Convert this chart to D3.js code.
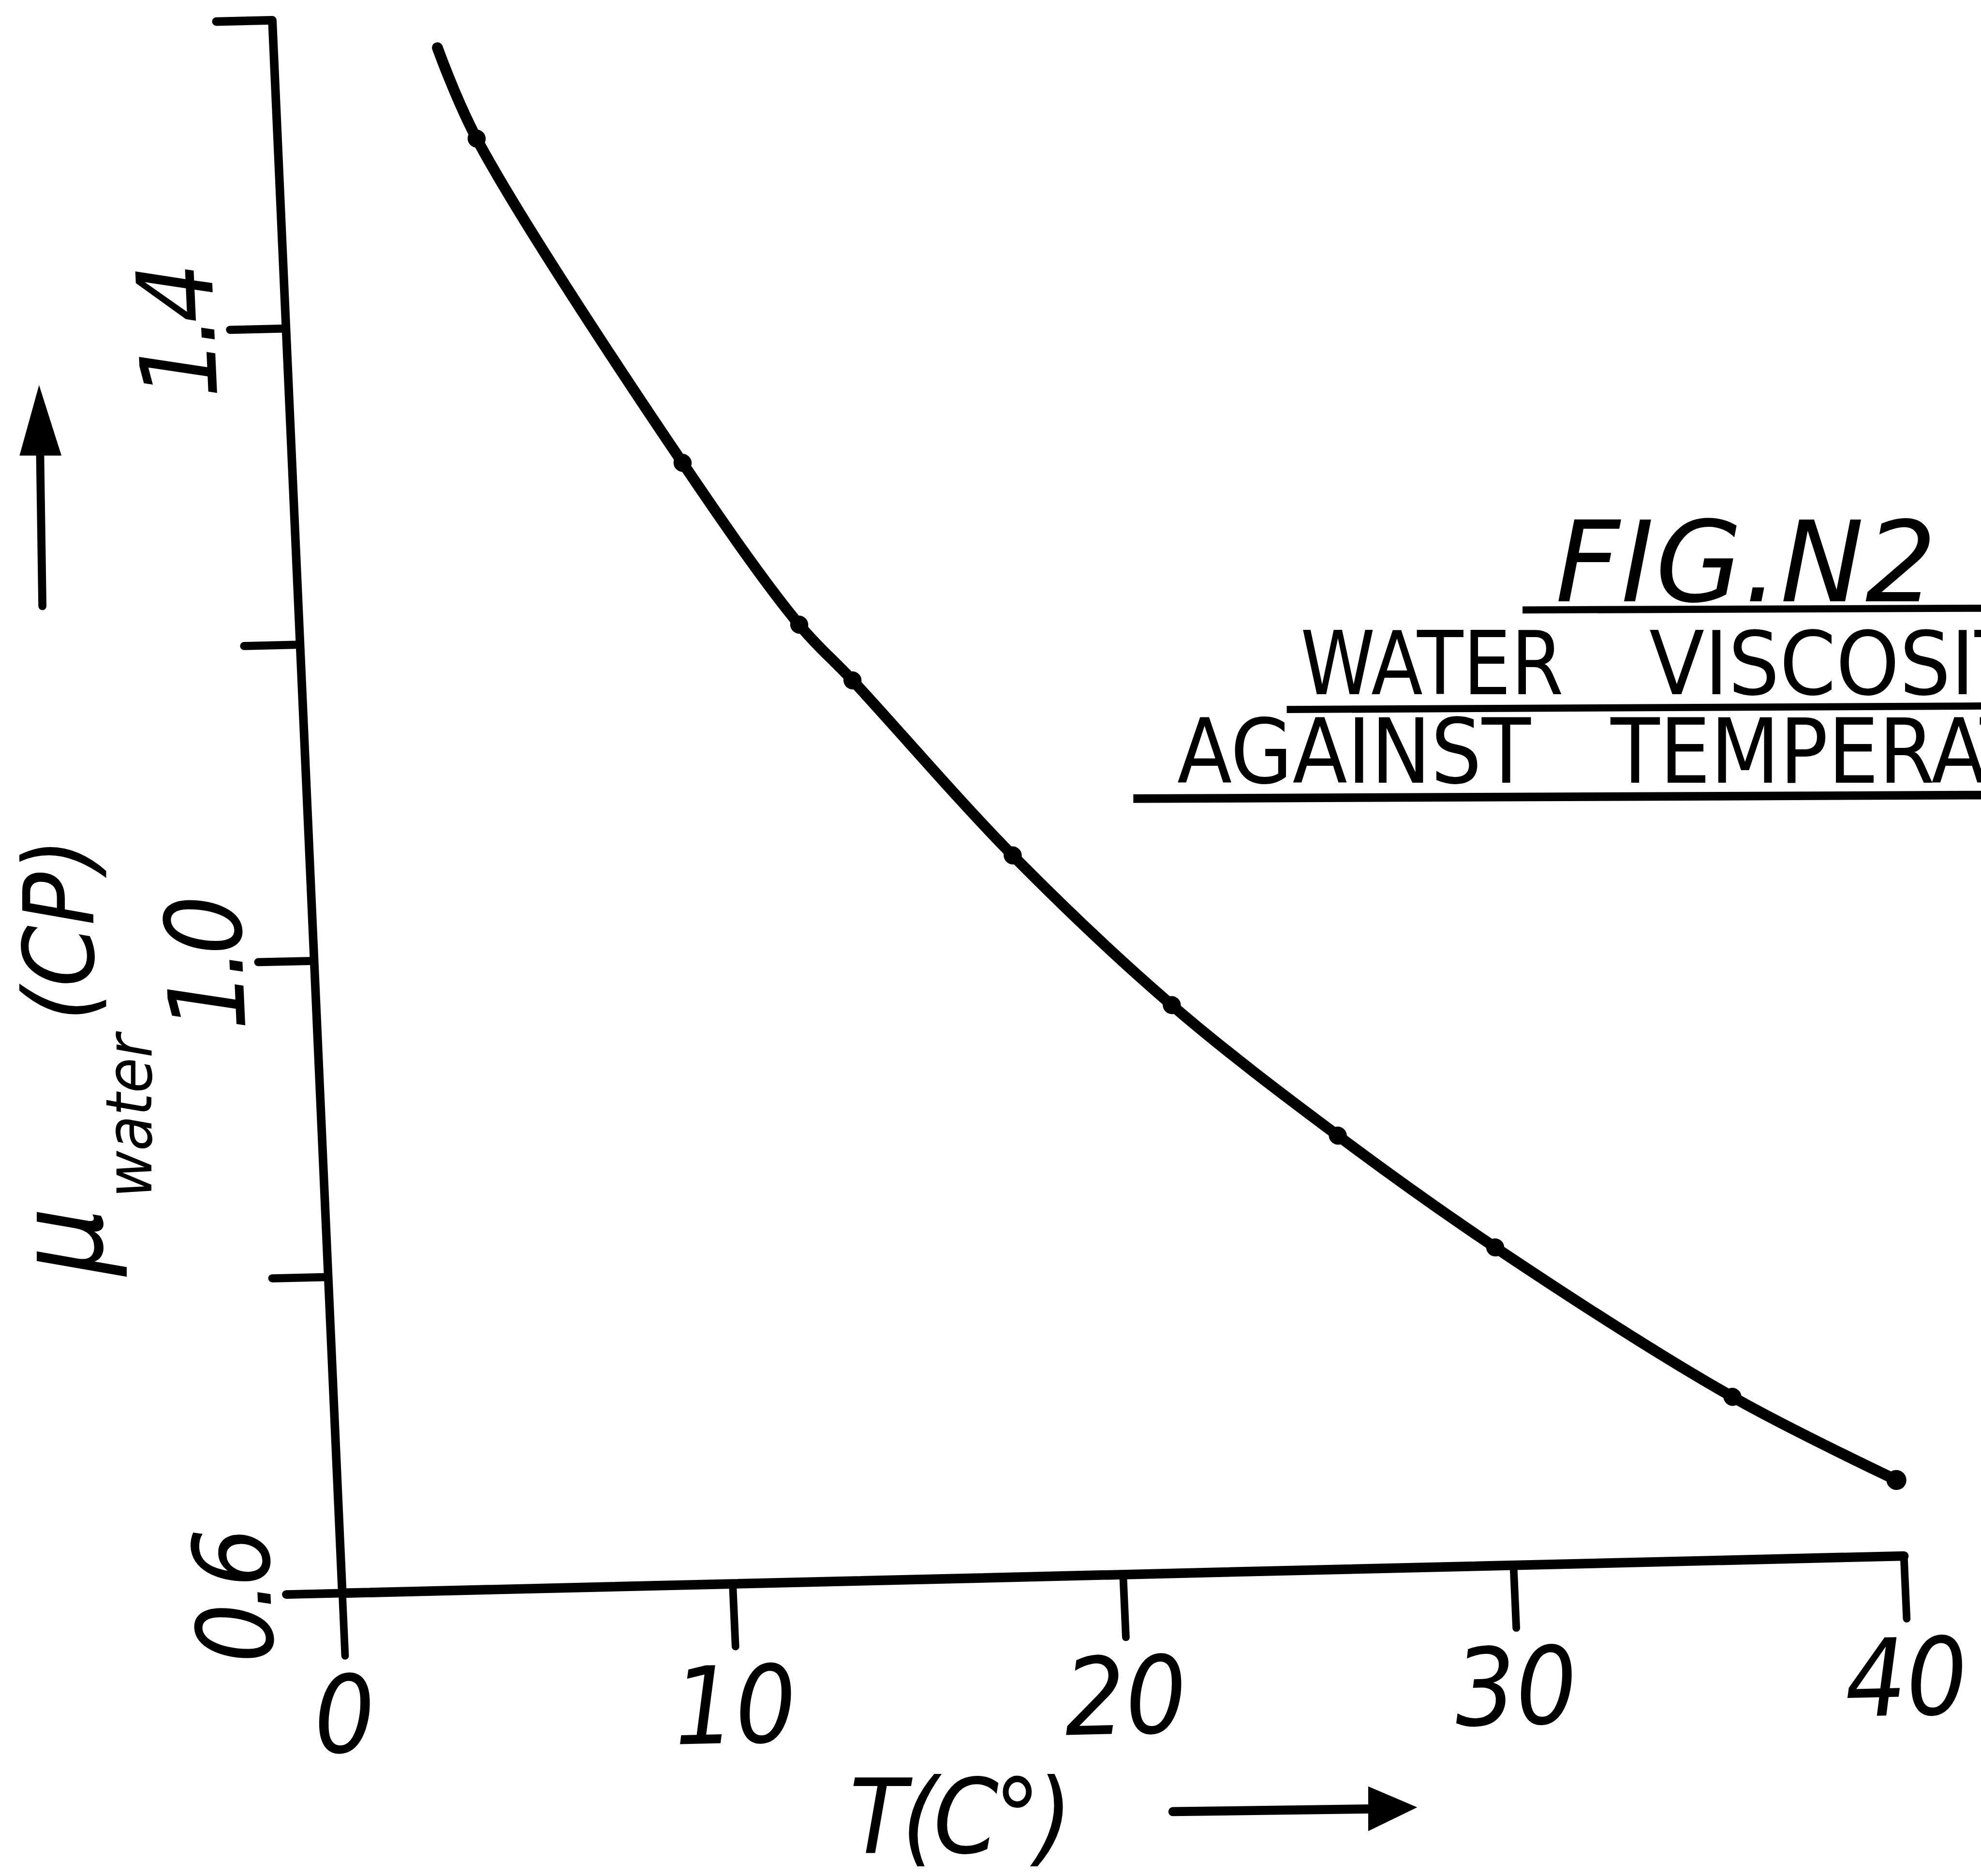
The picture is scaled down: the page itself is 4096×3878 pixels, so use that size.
<!DOCTYPE html>
<html>
<head>
<meta charset="utf-8">
<script src="https://cdn.jsdelivr.net/npm/d3@7"></script>
<style>
  html, body { margin: 0; padding: 0; background: #fff; overflow: hidden; }
  svg { display: block; }
</style>
</head>
<body>
<svg id="chart" width="4096" height="3878"></svg>
<script>
// Water viscosity (cP) measured at several temperatures (°C)
const pointTemps     = [5.1, 10.0, 12.8, 14.1, 18.0, 21.9, 26.0, 29.9, 35.8, 39.9];
const pointViscosity = [1.517, 1.309, 1.205, 1.169, 1.056, 0.959, 0.874, 0.801, 0.703, 0.648];
// the drawn curve begins slightly before the first measurement
const curveStartTemp = 4.2;
const curveStartViscosity = 1.575;

// axes
const xTicks = [0, 10, 20, 30, 40];
const xTickLabels = ["0", "10", "20", "30", "40"];
const yTicks = [0.6, 0.8, 1.0, 1.2, 1.4];
const yAxisTop = 1.595;
const yLabelValues = [0.6, 1.0, 1.4];
const yLabelTexts = ["0.6", "1.0", "1.4"];

// captions
const figureTitle = "FIG.N2";
const subtitleLine1 = ["WATER", "VISCOSITY"];
const subtitleLine2 = ["AGAINST", "TEMPERATURE"];
const xTitle = "T(C°)";
const yTitleSymbol = "μ";
const yTitleSubscript = "water";
const yTitleUnit = "(CP)";

const INK = "#000";
const HAND = "'DejaVu Sans Condensed', 'DejaVu Sans', sans-serif";
const LETTERING = "'DejaVu Sans', sans-serif";

const svg = d3.select("#chart");
svg.append("rect").attr("width", 4096).attr("height", 3878).attr("fill", "#fff");
const root = svg.append("g").attr("transform", "scale(0.985)");

// plotting frame (the hand-drawn axes lean a little, so the frame is sheared)
const x = d3.scaleLinear().domain([0, 40]).range([0, 3278]);
const y = d3.scaleLinear().domain([0.6, yAxisTop]).range([0, -(yAxisTop - 0.6) * 3317.5]);
const plot = root.append("g")
  .attr("transform", "matrix(1,-0.0238,0.0445,1,718,3343)")
  .attr("color", INK);

// x axis: baseline with downward ticks
const gx = plot.append("g").call(
  d3.axisBottom(x).tickValues(xTicks).tickSize(132).tickSizeOuter(0).tickFormat("")
);
gx.select(".domain").attr("stroke-width", 20).attr("stroke-linecap", "round");
gx.selectAll(".tick line").attr("stroke-width", 16).attr("stroke-linecap", "round");

// y axis: vertical line with ticks to the left, capped at the top
const gy = plot.append("g").call(
  d3.axisLeft(y).tickValues(yTicks).tickSize(117).tickSizeOuter(117).tickFormat("")
);
gy.select(".domain").attr("stroke-width", 18).attr("stroke-linecap", "round").attr("stroke-linejoin", "round");
gy.selectAll(".tick line").attr("stroke-width", 17).attr("stroke-linecap", "round");

// tick labels
plot.selectAll("text.xlab").data(xTicks).join("text")
  .attr("class", "xlab")
  .attr("x", d => x(d) - 6)
  .attr("y", 334)
  .attr("text-anchor", "middle")
  .attr("font-family", HAND)
  .attr("font-style", "italic")
  .attr("font-size", 225)
  .attr("fill", INK)
  .text((d, i) => xTickLabels[i]);

plot.selectAll("text.ylab").data(yLabelValues).join("text")
  .attr("class", "ylab")
  .attr("transform", d => `translate(-150,${y(d) + 7}) rotate(-90)`)
  .attr("text-anchor", "middle")
  .attr("font-family", HAND)
  .attr("font-style", "italic")
  .attr("font-size", 220)
  .attr("letter-spacing", -15)
  .attr("fill", INK)
  .text((d, i) => yLabelTexts[i]);

// viscosity curve through the measurements
const curveData = [[curveStartTemp, curveStartViscosity]]
  .concat(pointTemps.map((t, i) => [t, pointViscosity[i]]));
const line = d3.line()
  .x(d => x(d[0]))
  .y(d => y(d[1]))
  .curve(d3.curveCatmullRom.alpha(0.5));
plot.append("path")
  .datum(curveData)
  .attr("d", line)
  .attr("fill", "none")
  .attr("stroke", INK)
  .attr("stroke-width", 23)
  .attr("stroke-linecap", "round")
  .attr("stroke-linejoin", "round");

plot.selectAll("circle.pt").data(pointTemps).join("circle")
  .attr("class", "pt")
  .attr("cx", d => x(d))
  .attr("cy", (d, i) => y(pointViscosity[i]))
  .attr("r", (d, i) => i === pointTemps.length - 1 ? 21 : 19)
  .attr("fill", INK);

// axis titles
root.append("text")
  .attr("x", 2012).attr("y", 3888)
  .attr("text-anchor", "middle")
  .attr("font-family", HAND)
  .attr("font-style", "italic")
  .attr("font-size", 218)
  .attr("letter-spacing", -10)
  .attr("fill", INK)
  .text(xTitle);

root.append("path")
  .attr("d", "M2462,3802 L2890,3796")
  .attr("stroke", INK).attr("stroke-width", 19).attr("stroke-linecap", "round").attr("fill", "none");
root.append("path")
  .attr("d", "M2975,3793 L2872,3749 L2872,3843 Z")
  .attr("fill", INK);

root.append("text")
  .attr("transform", "translate(214,2605) rotate(-90)")
  .attr("text-anchor", "middle")
  .attr("font-family", HAND)
  .attr("font-style", "italic")
  .attr("font-size", 250)
  .attr("fill", INK)
  .text(yTitleSymbol);
root.append("text")
  .attr("transform", "translate(318,2342) rotate(-90)")
  .attr("text-anchor", "middle")
  .attr("font-family", HAND)
  .attr("font-style", "italic")
  .attr("font-size", 134)
  .attr("fill", INK)
  .text(yTitleSubscript);
root.append("text")
  .attr("transform", "translate(196,1951) rotate(-90)")
  .attr("text-anchor", "middle")
  .attr("font-family", HAND)
  .attr("font-style", "italic")
  .attr("font-size", 205)
  .attr("fill", INK)
  .text(yTitleUnit);

root.append("path")
  .attr("d", "M89,1272 L84,940")
  .attr("stroke", INK).attr("stroke-width", 17).attr("stroke-linecap", "round").attr("fill", "none");
root.append("path")
  .attr("d", "M82,808 L41,956 L129,956 Z")
  .attr("fill", INK);

// figure caption with underlines
root.append("text")
  .attr("x", 3265).attr("y", 1262)
  .attr("font-family", LETTERING)
  .attr("font-style", "italic")
  .attr("font-size", 235)
  .attr("textLength", 800)
  .attr("lengthAdjust", "spacing")
  .attr("fill", INK)
  .text(figureTitle);
root.append("line")
  .attr("x1", 3196).attr("y1", 1280).attr("x2", 4300).attr("y2", 1276)
  .attr("stroke", INK).attr("stroke-width", 15);

const line1Words = [
  { text: subtitleLine1[0], x: 2730, len: 552 },
  { text: subtitleLine1[1], x: 3462, len: 890 }
];
root.selectAll("text.sub1").data(line1Words).join("text")
  .attr("class", "sub1")
  .attr("x", d => d.x).attr("y", 1457)
  .attr("font-family", LETTERING)
  .attr("font-size", 184)
  .attr("textLength", d => d.len)
  .attr("lengthAdjust", "spacingAndGlyphs")
  .attr("fill", INK)
  .text(d => d.text);
root.append("line")
  .attr("x1", 2701).attr("y1", 1489).attr("x2", 4300).attr("y2", 1481)
  .attr("stroke", INK).attr("stroke-width", 15);

const line2Words = [
  { text: subtitleLine2[0], x: 2471, len: 742 },
  { text: subtitleLine2[1], x: 3381, len: 1225 }
];
root.selectAll("text.sub2").data(line2Words).join("text")
  .attr("class", "sub2")
  .attr("x", d => d.x).attr("y", 1643)
  .attr("font-family", LETTERING)
  .attr("font-size", 188)
  .attr("textLength", d => d.len)
  .attr("lengthAdjust", "spacingAndGlyphs")
  .attr("fill", INK)
  .text(d => d.text);
root.append("line")
  .attr("x1", 2379).attr("y1", 1676).attr("x2", 4300).attr("y2", 1668)
  .attr("stroke", INK).attr("stroke-width", 18);
</script>
</body>
</html>
